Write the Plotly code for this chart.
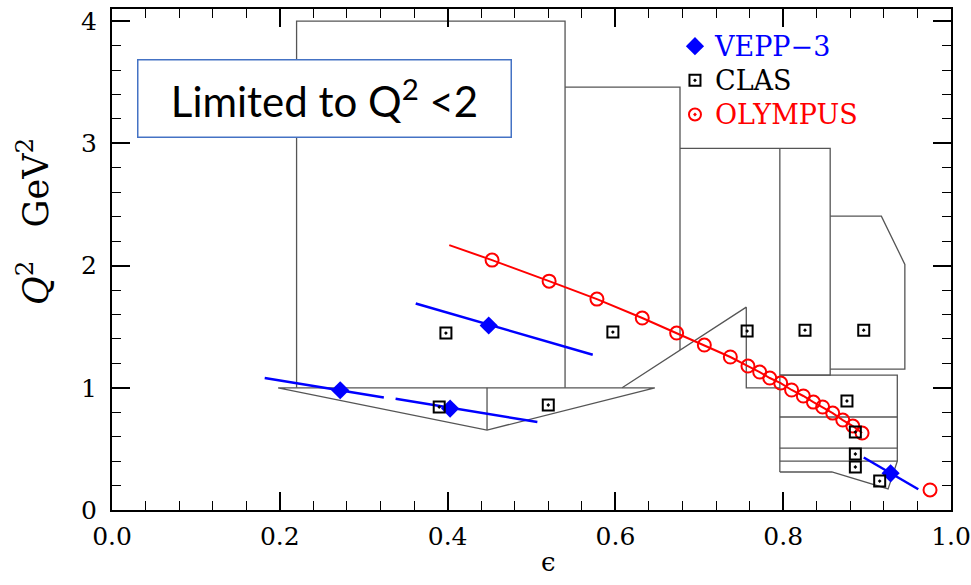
import plotly.graph_objects as go

# ---------------- data ----------------
# VEPP-3 points and the epsilon/Q^2 span of each measurement
vepp_eps = [0.272, 0.403, 0.449, 0.928]
vepp_q2 = [0.98, 0.83, 1.51, 0.30]
vepp_span_eps_lo = [0.182, 0.338, 0.362, 0.896]
vepp_span_q2_lo = [1.08, 0.91, 1.69, 0.43]
vepp_span_eps_hi = [0.324, 0.507, 0.573, 0.961]
vepp_span_q2_hi = [0.92, 0.72, 1.27, 0.17]

# CLAS bin centres
clas_eps = [0.398, 0.597, 0.757, 0.826, 0.896, 0.390, 0.520, 0.876, 0.886, 0.886, 0.886, 0.915]
clas_q2 = [1.448, 1.456, 1.464, 1.472, 1.472, 0.843, 0.859, 0.892, 0.638, 0.458, 0.352, 0.237]

# OLYMPUS points
olympus_eps = [0.453, 0.521, 0.578, 0.632, 0.673, 0.706, 0.737, 0.758, 0.772, 0.784,
               0.797, 0.810, 0.824, 0.836, 0.847, 0.859, 0.871, 0.883, 0.894, 0.975]
olympus_q2 = [2.045, 1.873, 1.726, 1.571, 1.448, 1.350, 1.252, 1.178, 1.129, 1.080,
              1.039, 0.982, 0.933, 0.883, 0.843, 0.793, 0.736, 0.687, 0.630, 0.164]
# OLYMPUS kinematic curve (starts a little below the first point)
olympus_curve_eps = [0.402] + olympus_eps[:19]
olympus_curve_q2 = [2.168] + olympus_q2[:19]

# CLAS kinematic coverage outlines (eps, Q^2 polylines)
cov_big_eps = [0.220, 0.220, 0.540, 0.540]
cov_big_q2 = [1.000, 4.000, 4.000, 1.000]
cov_b2_eps = [0.540, 0.677, 0.677]
cov_b2_q2 = [3.460, 3.460, 1.310]
cov_b34_eps = [0.677, 0.856, 0.856, 0.796]
cov_b34_q2 = [2.960, 2.960, 1.104, 1.104]
cov_mid_eps = [0.796, 0.796]
cov_mid_q2 = [2.960, 0.311]
cov_wedge_eps = [0.608, 0.756, 0.756, 0.796]
cov_wedge_q2 = [1.000, 1.660, 1.000, 1.000]
cov_low_eps = [0.198, 0.647, 0.447, 0.198]
cov_low_q2 = [1.000, 1.000, 0.654, 1.000]
cov_lowdiv_eps = [0.447, 0.447]
cov_lowdiv_q2 = [1.000, 0.654]
cov_b5_eps = [0.856, 0.917, 0.945, 0.945, 0.856]
cov_b5_q2 = [2.405, 2.405, 2.010, 1.153, 1.153]
cov_hi_eps = [0.796, 0.936, 0.936, 0.925, 0.858, 0.796]
cov_hi_q2 = [1.104, 1.104, 0.400, 0.172, 0.311, 0.311]
cov_hi_rows_q2 = [0.761, 0.507, 0.400]
cov_hi_rows_eps = [0.796, 0.936]

x_ticks = [0.0, 0.2, 0.4, 0.6, 0.8, 1.0]
y_ticks = [0, 1, 2, 3, 4]

# ---------------- figure ----------------
SERIF = "DejaVu Serif"
BLUE = "#0000ff"
RED = "#ff0000"
OUTLINE = "#555555"

fig = go.Figure()

outlines = [
    (cov_big_eps, cov_big_q2), (cov_b2_eps, cov_b2_q2), (cov_b34_eps, cov_b34_q2),
    (cov_mid_eps, cov_mid_q2), (cov_wedge_eps, cov_wedge_q2), (cov_low_eps, cov_low_q2),
    (cov_lowdiv_eps, cov_lowdiv_q2), (cov_b5_eps, cov_b5_q2), (cov_hi_eps, cov_hi_q2),
]
for q in cov_hi_rows_q2:
    outlines.append((cov_hi_rows_eps, [q, q]))

ox, oy = [], []
for xs, ys in outlines:
    ox += list(xs) + [None]
    oy += list(ys) + [None]
fig.add_trace(go.Scatter(x=ox, y=oy, mode="lines", line=dict(color=OUTLINE, width=1.3),
                         showlegend=False, hoverinfo="skip"))

# OLYMPUS curve and points
fig.add_trace(go.Scatter(x=olympus_curve_eps, y=olympus_curve_q2, mode="lines",
                         line=dict(color=RED, width=2), showlegend=False))
fig.add_trace(go.Scatter(x=olympus_eps, y=olympus_q2, mode="markers",
                         marker=dict(symbol="circle-open", size=13, color=RED,
                                     line=dict(color=RED, width=2)),
                         showlegend=False))

# VEPP-3 spans and points
vx, vy = [], []
for a, b, c, d in zip(vepp_span_eps_lo, vepp_span_q2_lo, vepp_span_eps_hi, vepp_span_q2_hi):
    vx += [a, c, None]
    vy += [b, d, None]
fig.add_trace(go.Scatter(x=vx, y=vy, mode="lines", line=dict(color=BLUE, width=2.5),
                         showlegend=False))
fig.add_trace(go.Scatter(x=vepp_eps, y=vepp_q2, mode="markers",
                         marker=dict(symbol="diamond", size=14, color=BLUE),
                         showlegend=False))

# CLAS points
fig.add_trace(go.Scatter(x=clas_eps, y=clas_q2, mode="markers",
                         marker=dict(symbol="square-open-dot", size=11, color="black",
                                     line=dict(color="black", width=2)),
                         showlegend=False))

# legend entries
LEG_TXT = "font-size:27px"
fig.add_trace(go.Scatter(x=[None], y=[None], mode="markers",
                         name=f"<span style='color:{BLUE};{LEG_TXT}'>VEPP\u22123</span>",
                         marker=dict(symbol="diamond", size=14, color=BLUE)))
fig.add_trace(go.Scatter(x=[None], y=[None], mode="markers",
                         name=f"<span style='color:black;{LEG_TXT}'>CLAS</span>",
                         marker=dict(symbol="square-open-dot", size=11, color="black",
                                     line=dict(color="black", width=2))))
fig.add_trace(go.Scatter(x=[None], y=[None], mode="markers",
                         name=f"<span style='color:{RED};{LEG_TXT}'>OLYMPUS</span>",
                         marker=dict(symbol="circle-open-dot", size=12, color=RED,
                                     line=dict(color=RED, width=2))))

axis_common = dict(
    showgrid=False, zeroline=False, showline=True, linecolor="black", linewidth=2,
    mirror="allticks", ticks="inside", ticklen=18, tickwidth=1.6, tickcolor="black",
    tickfont=dict(family=SERIF, size=25, color="black"), automargin=False,
)

fig.update_xaxes(
    range=[0, 1], tickvals=x_ticks, ticktext=[f"{v:.1f}" for v in x_ticks],
    minor=dict(ticks="inside", ticklen=9, dtick=0.04, tick0=0, tickwidth=1.3, tickcolor="black"),
    ticklabelstandoff=3,
    **axis_common,
)
fig.update_yaxes(
    range=[0, 4.1], tickvals=y_ticks, ticktext=[str(v) for v in y_ticks],
    minor=dict(ticks="inside", ticklen=9, dtick=0.2, tick0=0, tickwidth=1.3, tickcolor="black"),
    ticklabelstandoff=8,
    **axis_common,
)

# axis titles
fig.add_annotation(
    xref="paper", yref="paper", x=0.52, y=-0.0719, xanchor="center", yanchor="top",
    text="\u03f5", showarrow=False, font=dict(family=SERIF, size=26, color="black"),
    borderpad=0,
)
fig.add_annotation(
    xref="paper", yref="paper", x=-0.094, y=0.575, xanchor="center", yanchor="middle",
    text="<i>Q</i><sup>2</sup>\u00a0\u00a0\u00a0GeV<sup>2</sup>", textangle=-90, showarrow=False,
    font=dict(family=SERIF, size=35, color="black"),
)

fig.add_annotation(
    xref="paper", yref="paper", x=0.2527, y=0.8204, xanchor="center", yanchor="middle",
    text="Limited to Q<sup>2</sup> <2", showarrow=False,
    font=dict(family="Lato", size=42, color="black"),
    width=370, height=74, align="center", valign="middle",
    bgcolor="white", bordercolor="#4472c4", borderwidth=1.5, borderpad=1,
)

fig.update_layout(
    width=971, height=585,
    margin=dict(l=112, r=20, t=9, b=75),
    paper_bgcolor="white", plot_bgcolor="white",
    legend=dict(x=0.671, y=0.97, xanchor="left", yanchor="top",
                bgcolor="rgba(0,0,0,0)", borderwidth=0,
                font=dict(family=SERIF, size=24, color="black")),
)

fig.write_html("out.html")
